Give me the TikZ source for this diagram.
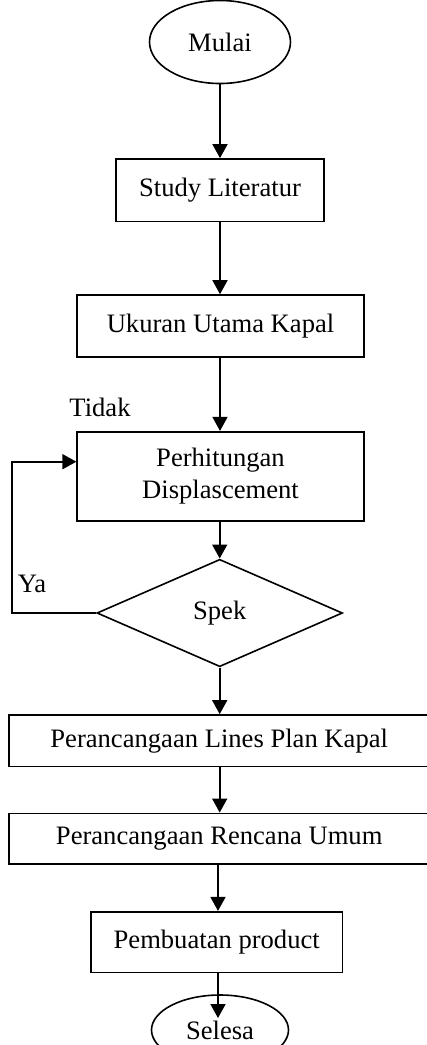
\documentclass[tikz,border=0pt]{standalone}
\usepackage{fontspec}
\setmainfont{Liberation Serif}
\usetikzlibrary{shapes.geometric,arrows.meta}
\begin{document}
\begin{tikzpicture}[x=1pt,y=-1pt,
  every node/.style={font=\fontsize{26.6}{32}\selectfont},
  box/.style={draw,line width=1.6pt,rectangle,inner sep=0pt,align=center},
  oval/.style={draw,line width=1.6pt,ellipse,inner sep=0pt},
  dec/.style={draw,line width=1.6pt,diamond,inner sep=0pt},
  arr/.style={line width=1.6pt,-{Triangle[length=14pt,width=15pt]}},
  lbl/.style={inner sep=0pt}]
\useasboundingbox (0,0) rectangle (427,1045);
\node[oval,minimum width=141pt,minimum height=83pt] (mulai) at (220,42) {Mulai};
\node[box,minimum width=207.6pt,minimum height=62.7pt] (study) at (220,190.3) {Study Literatur};
\node[box,minimum width=286.7pt,minimum height=62pt] (ukuran) at (220.5,326) {Ukuran Utama Kapal};
\node[box,minimum width=286.7pt,minimum height=89pt] (perh) at (220.5,476.2) {Perhitungan\\Displascement};
\node[dec,minimum width=245.6pt,minimum height=107.4pt] (dia) at (219.7,613) {Spek};
\node[box,minimum width=420.9pt,minimum height=51.7pt] (lines) at (219.2,740.8) {Perancangaan Lines Plan Kapal};
\node[box,minimum width=420pt,minimum height=50.7pt] (renc) at (219.2,838.7) {Perancangaan Rencana Umum};
\node[box,minimum width=251.3pt,minimum height=60.6pt] (pemb) at (216.7,942) {Pembuatan product};
\node[oval,minimum width=137pt,minimum height=70pt] (sel) at (220,1030) {Selesa};
\node[lbl] (tidak) at (100,407) {Tidak};
\node[lbl] (ya) at (32,584) {Ya};
\coordinate (lp) at (11.7,461.7);
\coordinate (seltip) at (218,1018);

\draw[arr] (mulai.south) -- (study.north);
\draw[arr] (study.south) -- (study.south |- ukuran.north);
\draw[arr] (study.south |- ukuran.south) -- (study.south |- perh.north);
\draw[arr] (dia.north |- perh.south) -- (dia.north);
\draw[arr] (dia.south) -- (dia.south |- lines.north);
\draw[arr] (dia.south |- lines.south) -- (dia.south |- renc.north);
\draw[arr] (renc.south -| seltip) -- (seltip |- pemb.north);
\draw[arr] (seltip |- pemb.south) -- (seltip);
\draw[arr] (dia.west) -| (lp) -- (lp -| perh.west);
\end{tikzpicture}
\end{document}
